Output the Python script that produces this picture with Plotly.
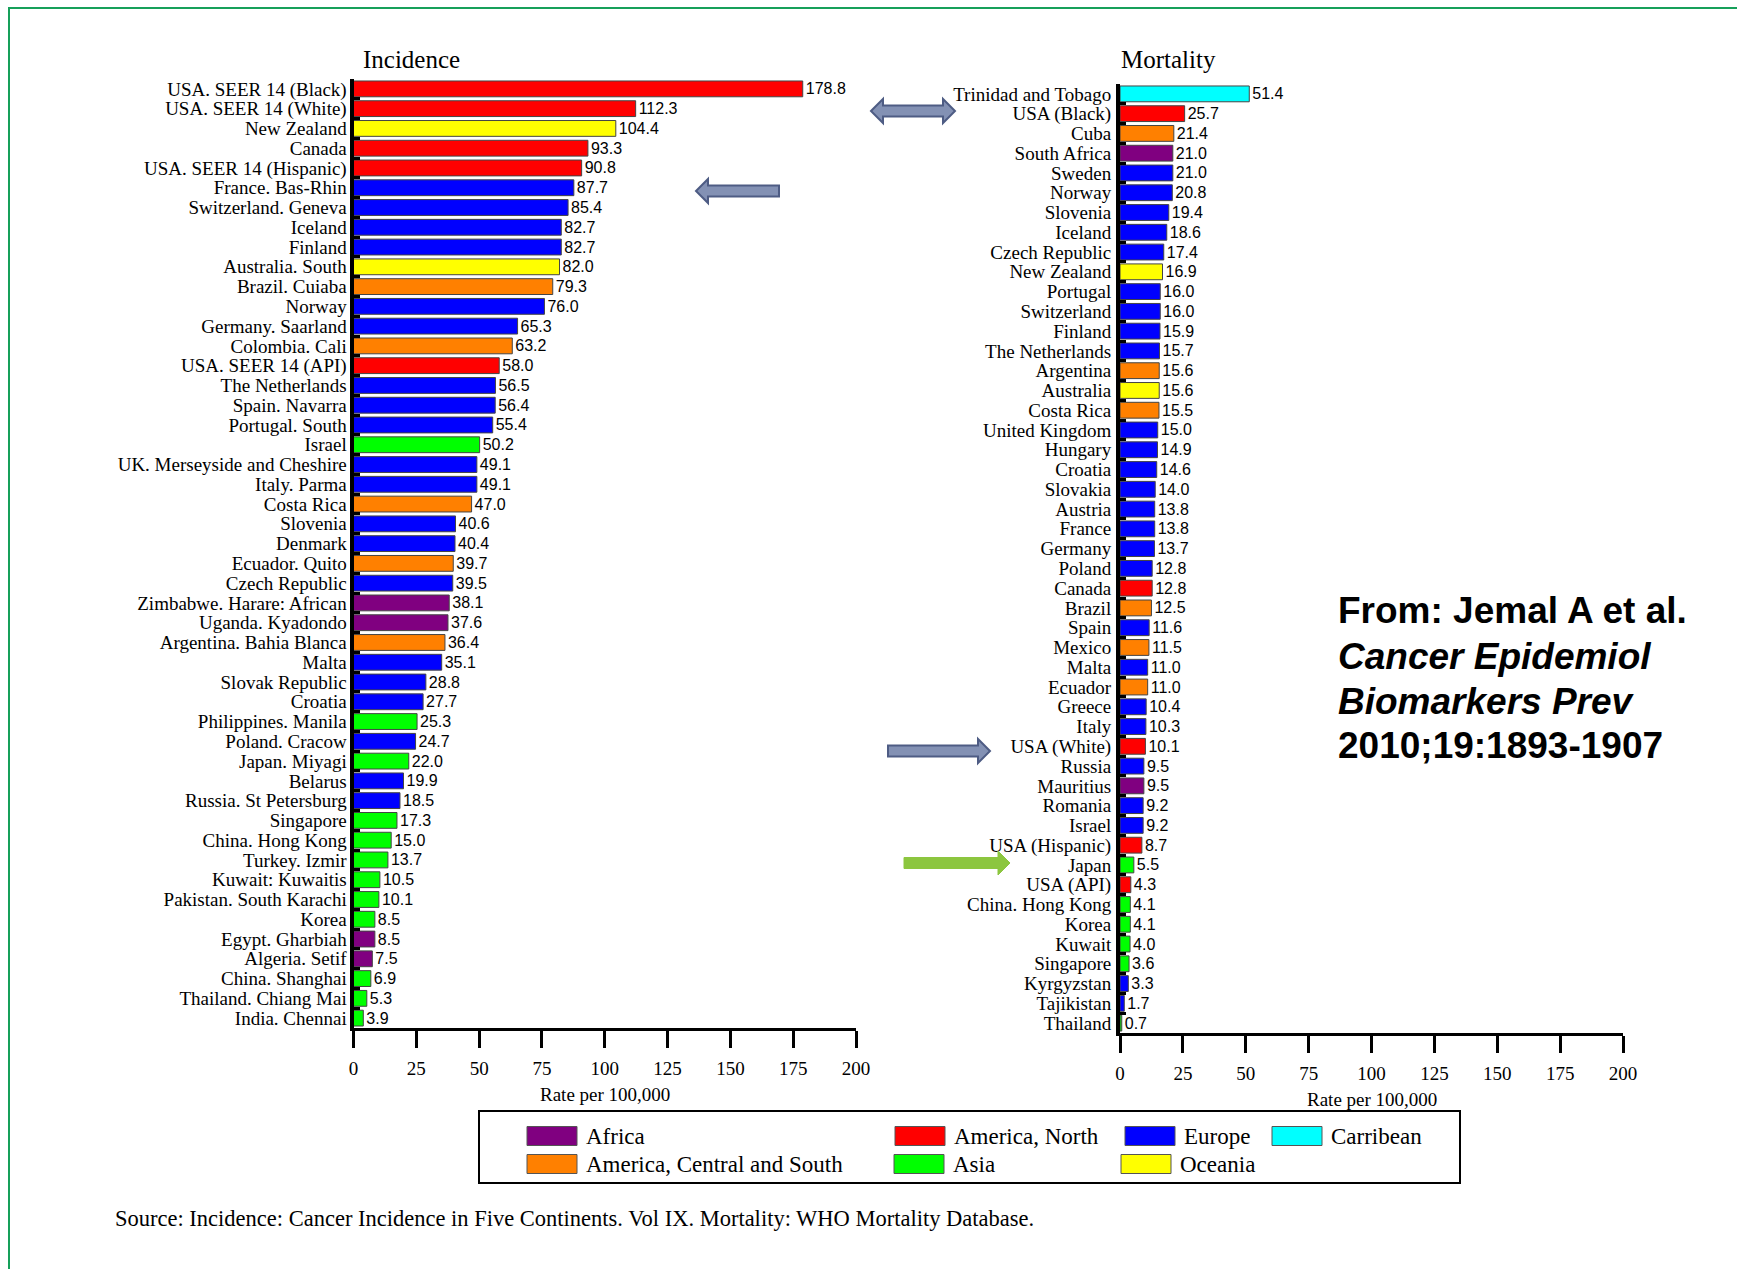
import plotly.graph_objects as go

W, H = 1737, 1269

# ---------------- data ----------------
region_names = ["Africa", "America, North", "Europe", "Carribean",
                "America, Central and South", "Asia", "Oceania"]
region_colors = {"Africa": "#800080", "America, North": "#FF0000", "Europe": "#0000FF",
                 "Carribean": "#00FFFF", "America, Central and South": "#FF8000",
                 "Asia": "#00FF00", "Oceania": "#FFFF00"}

inc_labels = ["USA. SEER 14 (Black)", "USA. SEER 14 (White)", "New Zealand", "Canada",
              "USA. SEER 14 (Hispanic)", "France. Bas-Rhin", "Switzerland. Geneva", "Iceland",
              "Finland", "Australia. South", "Brazil. Cuiaba", "Norway", "Germany. Saarland",
              "Colombia. Cali", "USA. SEER 14 (API)", "The Netherlands", "Spain. Navarra",
              "Portugal. South", "Israel", "UK. Merseyside and Cheshire", "Italy. Parma",
              "Costa Rica", "Slovenia", "Denmark", "Ecuador. Quito", "Czech Republic",
              "Zimbabwe. Harare: African", "Uganda. Kyadondo", "Argentina. Bahia Blanca", "Malta",
              "Slovak Republic", "Croatia", "Philippines. Manila", "Poland. Cracow", "Japan. Miyagi",
              "Belarus", "Russia. St Petersburg", "Singapore", "China. Hong Kong", "Turkey. Izmir",
              "Kuwait: Kuwaitis", "Pakistan. South Karachi", "Korea", "Egypt. Gharbiah",
              "Algeria. Setif", "China. Shanghai", "Thailand. Chiang Mai", "India. Chennai"]
inc_values = [178.8, 112.3, 104.4, 93.3, 90.8, 87.7, 85.4, 82.7, 82.7, 82.0, 79.3, 76.0, 65.3,
              63.2, 58.0, 56.5, 56.4, 55.4, 50.2, 49.1, 49.1, 47.0, 40.6, 40.4, 39.7, 39.5, 38.1,
              37.6, 36.4, 35.1, 28.8, 27.7, 25.3, 24.7, 22.0, 19.9, 18.5, 17.3, 15.0, 13.7, 10.5,
              10.1, 8.5, 8.5, 7.5, 6.9, 5.3, 3.9]
inc_regions = ["America, North", "America, North", "Oceania", "America, North", "America, North",
               "Europe", "Europe", "Europe", "Europe", "Oceania", "America, Central and South",
               "Europe", "Europe", "America, Central and South", "America, North", "Europe",
               "Europe", "Europe", "Asia", "Europe", "Europe", "America, Central and South",
               "Europe", "Europe", "America, Central and South", "Europe", "Africa", "Africa",
               "America, Central and South", "Europe", "Europe", "Europe", "Asia", "Europe",
               "Asia", "Europe", "Europe", "Asia", "Asia", "Asia", "Asia", "Asia", "Asia",
               "Africa", "Africa", "Asia", "Asia", "Asia"]

mort_labels = ["Trinidad and Tobago", "USA (Black)", "Cuba", "South Africa", "Sweden", "Norway",
               "Slovenia", "Iceland", "Czech Republic", "New Zealand", "Portugal", "Switzerland",
               "Finland", "The Netherlands", "Argentina", "Australia", "Costa Rica",
               "United Kingdom", "Hungary", "Croatia", "Slovakia", "Austria", "France", "Germany",
               "Poland", "Canada", "Brazil", "Spain", "Mexico", "Malta", "Ecuador", "Greece",
               "Italy", "USA (White)", "Russia", "Mauritius", "Romania", "Israel", "USA (Hispanic)",
               "Japan", "USA (API)", "China. Hong Kong", "Korea", "Kuwait", "Singapore",
               "Kyrgyzstan", "Tajikistan", "Thailand"]
mort_values = [51.4, 25.7, 21.4, 21.0, 21.0, 20.8, 19.4, 18.6, 17.4, 16.9, 16.0, 16.0, 15.9,
               15.7, 15.6, 15.6, 15.5, 15.0, 14.9, 14.6, 14.0, 13.8, 13.8, 13.7, 12.8, 12.8, 12.5,
               11.6, 11.5, 11.0, 11.0, 10.4, 10.3, 10.1, 9.5, 9.5, 9.2, 9.2, 8.7, 5.5, 4.3, 4.1,
               4.1, 4.0, 3.6, 3.3, 1.7, 0.7]
mort_regions = ["Carribean", "America, North", "America, Central and South", "Africa", "Europe",
                "Europe", "Europe", "Europe", "Europe", "Oceania", "Europe", "Europe", "Europe",
                "Europe", "America, Central and South", "Oceania", "America, Central and South",
                "Europe", "Europe", "Europe", "Europe", "Europe", "Europe", "Europe", "Europe",
                "America, North", "America, Central and South", "Europe",
                "America, Central and South", "Europe", "America, Central and South", "Europe",
                "Europe", "America, North", "Europe", "Africa", "Europe", "Europe",
                "America, North", "Asia", "America, North", "Asia", "Asia", "Asia", "Asia",
                "Europe", "Europe", "Asia"]

x_ticks = [0, 25, 50, 75, 100, 125, 150, 175, 200]

# ---------------- helpers ----------------
def px(x):
    return x / W


def py(y):
    return 1 - y / H


SERIF = "Liberation Serif"
SANS = "Liberation Sans"

fig = go.Figure()

fig.add_trace(go.Bar(
    x=inc_values, y=inc_labels, orientation="h",
    marker=dict(color=[region_colors[r] for r in inc_regions], line=dict(color="#444", width=1)),
    text=[f"{v:.1f}" for v in inc_values], textposition="outside",
    textfont=dict(family=SANS, size=16, color="black"), constraintext="none",
    cliponaxis=False, xaxis="x", yaxis="y", showlegend=False, hoverinfo="skip"))

fig.add_trace(go.Bar(
    x=mort_values, y=mort_labels, orientation="h",
    marker=dict(color=[region_colors[r] for r in mort_regions], line=dict(color="#444", width=1)),
    text=[f"{v:.1f}" for v in mort_values], textposition="outside",
    textfont=dict(family=SANS, size=16, color="black"), constraintext="none",
    cliponaxis=False, xaxis="x2", yaxis="y2", showlegend=False, hoverinfo="skip"))

xcommon = dict(range=[0, 200], tickvals=x_ticks, showgrid=False, zeroline=False,
               showline=True, linecolor="black", linewidth=3,
               ticks="outside", ticklen=17, tickwidth=3, tickcolor="black",
               tickfont=dict(family=SERIF, size=19, color="black"),
               ticklabelstandoff=4, fixedrange=True)
ycommon = dict(type="category", autorange="reversed", showgrid=False, zeroline=False,
               showline=True, linecolor="black", linewidth=4,
               ticks="inside", tickson="boundaries", ticklen=6, tickwidth=3, tickcolor="black",
               tickfont=dict(family=SERIF, size=19, color="black"), fixedrange=True)

fig.update_layout(
    width=W, height=H, autosize=False, margin=dict(l=0, r=0, t=0, b=0, autoexpand=False),
    paper_bgcolor="white", plot_bgcolor="white", bargap=0.2,
    xaxis=dict(domain=[px(353.5), px(856)], anchor="y", **xcommon),
    yaxis=dict(domain=[py(1028), py(79)], anchor="x", categoryarray=inc_labels,
               tickmode="array", tickvals=inc_labels, ticktext=inc_labels,
               ticklabelstandoff=-1, **ycommon),
    xaxis2=dict(domain=[px(1120), px(1623)], anchor="y2", **xcommon),
    yaxis2=dict(domain=[py(1033), py(84)], anchor="x2", categoryarray=mort_labels,
                tickmode="array", tickvals=mort_labels, ticktext=mort_labels,
                ticklabelstandoff=1, **ycommon),
)

ann = []


def text(x, y, s, size, family=SERIF, xanchor="center", **kw):
    ann.append(dict(x=px(x), y=py(y), xref="paper", yref="paper", text=s, showarrow=False,
                    xanchor=xanchor, yanchor="middle", font=dict(family=family, size=size,
                                                                  color="black"), **kw))


text(411, 60, "Incidence", 25)
text(1168, 60, "Mortality", 25)
text(605, 1094, "Rate per 100,000", 19)
text(1372, 1099, "Rate per 100,000", 19)
text(113, 1218, "Source: Incidence: Cancer Incidence in Five Continents. Vol IX. Mortality: WHO Mortality Database.",
     22.5, xanchor="left")

text(1336, 610, "<b>From: Jemal A et al.</b>", 37, family=SANS, xanchor="left")
text(1336, 656, "<b><i>Cancer Epidemiol</i></b>", 37, family=SANS, xanchor="left")
text(1336, 701, "<b><i>Biomarkers Prev</i></b>", 37, family=SANS, xanchor="left")
text(1336, 745, "<b>2010;19:1893-1907</b>", 37, family=SANS, xanchor="left")

shapes = []

# legend box
shapes.append(dict(type="rect", xref="paper", yref="paper", x0=px(479), x1=px(1460),
                   y0=py(1183), y1=py(1111), line=dict(color="black", width=2),
                   fillcolor="rgba(0,0,0,0)"))
legend_pos = {"Africa": (527, 1136), "America, North": (895, 1136), "Europe": (1125, 1136),
              "Carribean": (1272, 1136), "America, Central and South": (527, 1164),
              "Asia": (894, 1164), "Oceania": (1121, 1164)}
for name in region_names:
    lx, ly = legend_pos[name]
    shapes.append(dict(type="rect", xref="paper", yref="paper", x0=px(lx), x1=px(lx + 50),
                       y0=py(ly + 9.5), y1=py(ly - 9.5), fillcolor=region_colors[name],
                       line=dict(color="#555", width=1)))
    text(lx + 57, ly, name, 23, xanchor="left")

# frame
shapes.append(dict(type="rect", xref="paper", yref="paper", x0=px(9), x1=px(1760),
                   y0=py(1290), y1=py(8), line=dict(color="#16A05A", width=2),
                   fillcolor="rgba(0,0,0,0)", layer="below"))


def arrow_path(x0, x1, y, shaft=5.5, head=12, hlen=12, left_head=False, right_head=True):
    pts = []
    if left_head:
        pts += [(x0, y), (x0 + hlen, y - head), (x0 + hlen, y - shaft)]
    else:
        pts += [(x0, y - shaft)]
    if right_head:
        pts += [(x1 - hlen, y - shaft), (x1 - hlen, y - head), (x1, y), (x1 - hlen, y + head),
                (x1 - hlen, y + shaft)]
    else:
        pts += [(x1, y - shaft), (x1, y + shaft)]
    if left_head:
        pts += [(x0 + hlen, y + shaft), (x0 + hlen, y + head)]
    else:
        pts += [(x0, y + shaft)]
    return "M " + " L ".join(f"{px(a):.6f},{py(b):.6f}" for a, b in pts) + " Z"


slate_fill, slate_line = "#8391B4", "#4E5C84"
shapes.append(dict(type="path", xref="paper", yref="paper",
                   path=arrow_path(871, 955, 111, left_head=True, right_head=True),
                   fillcolor=slate_fill, line=dict(color=slate_line, width=2)))
shapes.append(dict(type="path", xref="paper", yref="paper",
                   path=arrow_path(696, 779, 191, left_head=True, right_head=False),
                   fillcolor=slate_fill, line=dict(color=slate_line, width=2)))
shapes.append(dict(type="path", xref="paper", yref="paper",
                   path=arrow_path(888, 990, 751),
                   fillcolor=slate_fill, line=dict(color=slate_line, width=2)))
shapes.append(dict(type="path", xref="paper", yref="paper",
                   path=arrow_path(904, 1010, 863),
                   fillcolor="#8CC63F", line=dict(color="#8CC63F", width=1)))

fig.update_layout(annotations=ann, shapes=shapes)
fig.write_html(
    "out.html",
    config={"responsive": False},
    post_script="document.documentElement.style.overflow='hidden';"
                "document.body.style.margin='0';document.body.style.overflow='hidden';")
